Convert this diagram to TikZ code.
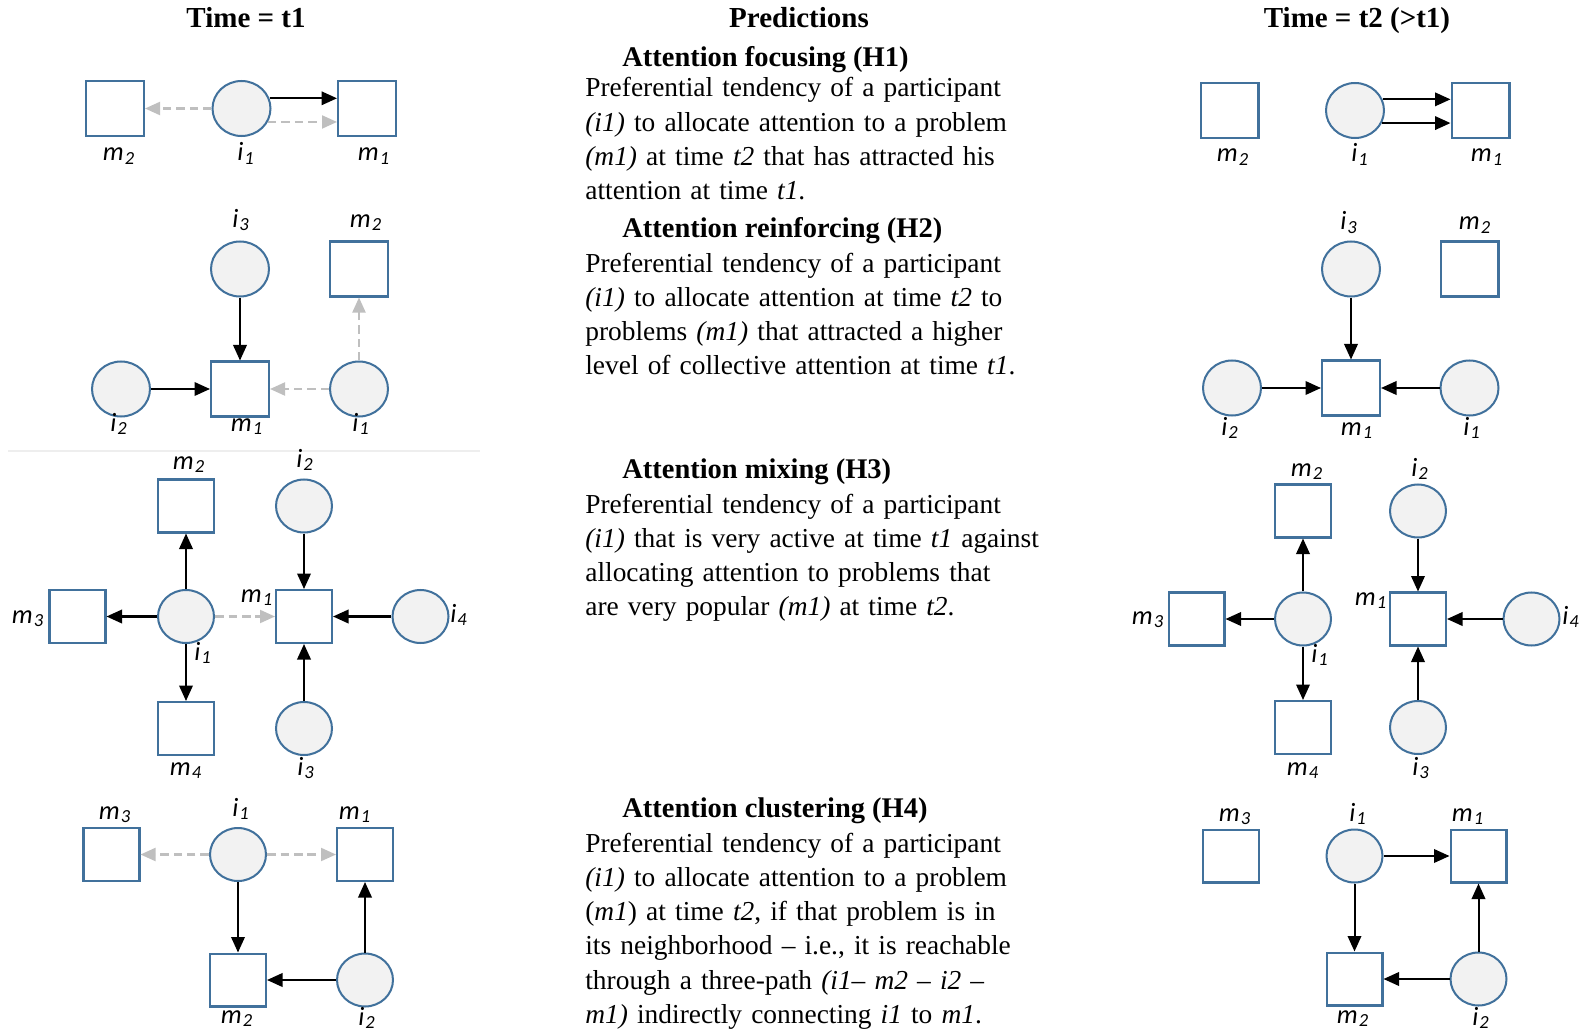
\documentclass[tikz,border=0pt]{standalone}
\usepackage{fontspec}
\setmainfont{Liberation Serif}
\newfontfamily\labfont{Carlito}
\usetikzlibrary{shapes.geometric,arrows.meta,calc}
\definecolor{nodeblue}{RGB}{65,113,156}
\definecolor{cfill}{RGB}{242,242,242}
\definecolor{agray}{RGB}{191,191,191}
\definecolor{sepgray}{RGB}{238,238,238}
\newcommand\nlab[2]{#1\kern0.6pt\textsubscript{#2}}
\tikzset{
  sqB/.style={draw=nodeblue, line width=1.15pt, fill=white, minimum width=1.16cm, minimum height=1.10cm, inner sep=0pt},
  ciB/.style={ellipse, draw=nodeblue, line width=1.15pt, fill=cfill, minimum width=1.16cm, minimum height=1.10cm, inner sep=0pt},
  sqS/.style={sqB, minimum width=1.12cm, minimum height=1.06cm},
  ciS/.style={ciB, minimum width=1.12cm, minimum height=1.06cm},
  blk/.style={line width=1.15pt, -{Triangle[length=0.31cm, width=0.27cm]}},
  gry/.style={line width=1.15pt, draw=agray, dash pattern=on 0.17cm off 0.1cm, -{Triangle[length=0.3cm, width=0.26cm, fill=agray]}},
  lab/.style={font=\labfont\itshape\fontsize{15pt}{18pt}\selectfont, inner sep=0pt, anchor=base},
  body/.style={font={\fontsize{15.6pt}{19.5pt}\selectfont\spaceskip=0.22em\relax}, align=left, text width=9.8cm, inner sep=0pt, anchor=base west},
  head/.style={font=\bfseries\fontsize{16.2pt}{19.5pt}\selectfont, inner sep=0pt, anchor=base west},
  title/.style={font=\bfseries\fontsize{16.5pt}{19.5pt}\selectfont, inner sep=0pt, anchor=base},
}
\begin{document}
\begin{tikzpicture}[x=0.02cm, y=-0.02cm]
\useasboundingbox (0,0) rectangle (1583,1034);

% titles
\node[title] (tt1) at (246,28) {Time = t1};
\node[title] (tpr) at (799,28) {Predictions};
\node[title] (tt2) at (1357,28) {Time = t2 (>t1)};

% separator
\draw[sepgray, line width=0.6pt] (8,451) -- (480,451);

% ---------- H1 left ----------
\node[sqB] (a-m2) at (115,108.5) {};
\node[ciB] (a-i1) at (241.5,108.5) {};
\node[sqB] (a-m1) at (367,108.5) {};
\node[lab] (a-lm2) at (119,161) {\nlab{m}{2}};
\node[lab] (a-li1) at (246,161) {\nlab{i}{1}};
\node[lab] (a-lm1) at (374,161) {\nlab{m}{1}};
\draw[blk] (a-i1.20) -- (a-i1.20 -| a-m1.west);
\draw[gry] (a-i1.west) -- (a-m2.east);
\draw[gry] (a-i1.-27) -- (a-i1.-27 -| a-m1.west);

% ---------- H1 right ----------
\node[sqB] (b-m2) at (1229.5,110.5) {};
\node[ciB] (b-i1) at (1355,110.5) {};
\node[sqB] (b-m1) at (1480.5,110.5) {};
\node[lab] (b-lm2) at (1233,162) {\nlab{m}{2}};
\node[lab] (b-li1) at (1360,162) {\nlab{i}{1}};
\node[lab] (b-lm1) at (1487,162) {\nlab{m}{1}};
\draw[blk] (b-i1.22) -- (b-i1.22 -| b-m1.west);
\draw[blk] (b-i1.-25) -- (b-i1.-25 -| b-m1.west);

% ---------- H2 left ----------
\node[ciB] (c-i3) at (240,269) {};
\node[sqB] (c-m2) at (359,269) {};
\node[ciB] (c-i2) at (121,389) {};
\node[sqB] (c-m1) at (240,389) {};
\node[ciB] (c-i1) at (359,389) {};
\node[lab] (c-li3) at (241,227) {\nlab{i}{3}};
\node[lab] (c-lm2) at (366,227) {\nlab{m}{2}};
\node[lab] (c-li2) at (119,431) {\nlab{i}{2}};
\node[lab] (c-lm1) at (247,431) {\nlab{m}{1}};
\node[lab] (c-li1) at (361,431) {\nlab{i}{1}};
\draw[blk] (c-i3) -- (c-m1);
\draw[blk] (c-i2) -- (c-m1);
\draw[gry] (c-i1) -- (c-m1);
\draw[gry] (c-i1) -- (c-m2);

% ---------- H2 right ----------
\node[ciB] (d-i3) at (1351,269) {};
\node[sqB] (d-m2) at (1469.5,269) {};
\node[ciB] (d-i2) at (1232,388) {};
\node[sqB] (d-m1) at (1351,388) {};
\node[ciB] (d-i1) at (1469.5,388) {};
\node[lab] (d-li3) at (1349,230) {\nlab{i}{3}};
\node[lab] (d-lm2) at (1475,230) {\nlab{m}{2}};
\node[lab] (d-li2) at (1230,435) {\nlab{i}{2}};
\node[lab] (d-lm1) at (1357,435) {\nlab{m}{1}};
\node[lab] (d-li1) at (1472,435) {\nlab{i}{1}};
\draw[blk] (d-i3) -- (d-m1);
\draw[blk] (d-i2) -- (d-m1);
\draw[blk] (d-i1) -- (d-m1);

% ---------- H3 left ----------
\node[sqS] (e-m2) at (186,506) {};
\node[ciS] (e-i2) at (304,506) {};
\node[sqS] (e-m3) at (77.5,616.5) {};
\node[ciS] (e-i1) at (186,616.5) {};
\node[sqS] (e-m1) at (304,616.5) {};
\node[ciS] (e-i4) at (420.5,616.5) {};
\node[sqS] (e-m4) at (186,728.5) {};
\node[ciS] (e-i3) at (304,728.5) {};
\node[lab] (e-lm2) at (189,469) {\nlab{m}{2}};
\node[lab] (e-li2) at (305,467) {\nlab{i}{2}};
\node[lab] (e-lm1) at (257,602) {\nlab{m}{1}};
\node[lab] (e-lm3) at (28,623) {\nlab{m}{3}};
\node[lab] (e-li1) at (203,660) {\nlab{i}{1}};
\node[lab] (e-li4) at (459,622) {\nlab{i}{4}};
\node[lab] (e-lm4) at (186,775) {\nlab{m}{4}};
\node[lab] (e-li3) at (306,775) {\nlab{i}{3}};
\draw[blk] (e-i1) -- (e-m2);
\draw[blk] (e-i1) -- (e-m3);
\draw[blk] (e-i1) -- (e-m4);
\draw[gry] (e-i1) -- (e-m1);
\draw[blk] (e-i2) -- (e-m1);
\draw[blk] (e-i4) -- (e-m1);
\draw[blk] (e-i3) -- (e-m1);

% ---------- H3 right ----------
\node[sqS] (f-m2) at (1303,511) {};
\node[ciS] (f-i2) at (1418,511) {};
\node[sqS] (f-m3) at (1196.5,619) {};
\node[ciS] (f-i1) at (1303,619) {};
\node[sqS] (f-m1) at (1418,619) {};
\node[ciS] (f-i4) at (1531.5,619) {};
\node[sqS] (f-m4) at (1303,727.5) {};
\node[ciS] (f-i3) at (1418,727.5) {};
\node[lab] (f-lm2) at (1307,476) {\nlab{m}{2}};
\node[lab] (f-li2) at (1420,476) {\nlab{i}{2}};
\node[lab] (f-lm1) at (1371,605) {\nlab{m}{1}};
\node[lab] (f-lm3) at (1148,624) {\nlab{m}{3}};
\node[lab] (f-li1) at (1320,662) {\nlab{i}{1}};
\node[lab] (f-li4) at (1571,624) {\nlab{i}{4}};
\node[lab] (f-lm4) at (1303,775) {\nlab{m}{4}};
\node[lab] (f-li3) at (1421,775) {\nlab{i}{3}};
\draw[blk] (f-i1) -- (f-m2);
\draw[blk] (f-i1) -- (f-m3);
\draw[blk] (f-i1) -- (f-m4);
\draw[blk] (f-i2) -- (f-m1);
\draw[blk] (f-i4) -- (f-m1);
\draw[blk] (f-i3) -- (f-m1);

% ---------- H4 left ----------
\node[sqS] (g-m3) at (111.5,854.5) {};
\node[ciS] (g-i1) at (238,854.5) {};
\node[sqS] (g-m1) at (365,854.5) {};
\node[sqS] (g-m2) at (238,980) {};
\node[ciS] (g-i2) at (365,980) {};
\node[lab] (g-lm3) at (115,819) {\nlab{m}{3}};
\node[lab] (g-li1) at (241,816) {\nlab{i}{1}};
\node[lab] (g-lm1) at (355,819) {\nlab{m}{1}};
\node[lab] (g-lm2) at (237,1023) {\nlab{m}{2}};
\node[lab] (g-li2) at (367,1025) {\nlab{i}{2}};
\draw[gry] (g-i1) -- (g-m3);
\draw[gry] (g-i1) -- (g-m1);
\draw[blk] (g-i1) -- (g-m2);
\draw[blk] (g-i2) -- (g-m2);
\draw[blk] (g-i2) -- (g-m1);

% ---------- H4 right ----------
\node[sqS] (h-m3) at (1231,856) {};
\node[ciS] (h-i1) at (1354.5,856) {};
\node[sqS] (h-m1) at (1478.5,856) {};
\node[sqS] (h-m2) at (1354.5,979) {};
\node[ciS] (h-i2) at (1478.5,979) {};
\node[lab] (h-lm3) at (1235,821) {\nlab{m}{3}};
\node[lab] (h-li1) at (1358,821) {\nlab{i}{1}};
\node[lab] (h-lm1) at (1468,821) {\nlab{m}{1}};
\node[lab] (h-lm2) at (1353,1023) {\nlab{m}{2}};
\node[lab] (h-li2) at (1481,1025) {\nlab{i}{2}};
\draw[blk] (h-i1) -- (h-m1);
\draw[blk] (h-i1) -- (h-m2);
\draw[blk] (h-i2) -- (h-m2);
\draw[blk] (h-i2) -- (h-m1);

% ---------- text ----------
\node[head] (hd1) at (622,67) {Attention focusing (H1)};
\node[body] (tx1) at (585,97) {Preferential tendency of a participant\\
\textit{(i1)} to allocate attention to a problem\\
\textit{(m1)} at time \textit{t2} that has attracted his\\
attention at time \textit{t1}.};

\node[head] (hd2) at (622,237) {Attention reinforcing (H2)};
\node[body] (tx2) at (585,272) {Preferential tendency of a participant\\
\textit{(i1)} to allocate attention at time \textit{t2} to\\
problems \textit{(m1)} that attracted a higher\\
level of collective attention at time \textit{t1}.};

\node[head] (hd3) at (622,478) {Attention mixing (H3)};
\node[body] (tx3) at (585,513) {Preferential tendency of a participant\\
\textit{(i1)} that is very active at time \textit{t1} against\\
allocating attention to problems that\\
are very popular \textit{(m1)} at time \textit{t2}.};

\node[head] (hd4) at (622,817) {Attention clustering (H4)};
\node[body] (tx4) at (585,852) {Preferential tendency of a participant\\
\textit{(i1)} to allocate attention to a problem\\
(\textit{m1}) at time \textit{t2}, if that problem is in\\
its neighborhood -- i.e., it is reachable\\
through a three-path \textit{(i1-- m2 -- i2 --}\\
\textit{m1)} indirectly connecting \textit{i1} to \textit{m1}.};
\end{tikzpicture}
\end{document}
